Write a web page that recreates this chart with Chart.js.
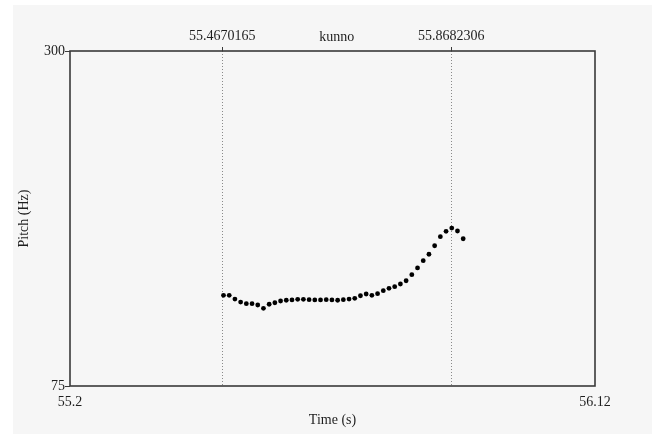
<!DOCTYPE html>
<html>
<head>
<meta charset="utf-8">
<script src="https://cdn.jsdelivr.net/npm/chart.js@4.4.1/dist/chart.umd.min.js"></script>
<style>
  html, body { margin: 0; padding: 0; background: #ffffff; }
  #wrap { position: relative; width: 660px; height: 434px; }
  #panel { position: absolute; left: 13px; top: 5px; width: 639px; height: 429px; background: #f6f6f6; }
  #chart { position: absolute; left: 0; top: 0; }
</style>
</head>
<body>
<div id="wrap">
  <div id="panel"></div>
  <canvas id="chart" width="660" height="434"></canvas>
</div>
<script>
// Pitch track (Hz) sampled every 10 ms across the word
const times = [
  55.469, 55.479, 55.489, 55.499, 55.509, 55.519, 55.529, 55.539, 55.549, 55.559,
  55.569, 55.579, 55.589, 55.599, 55.609, 55.619, 55.629, 55.639, 55.649, 55.659,
  55.669, 55.679, 55.689, 55.699, 55.709, 55.719, 55.729, 55.739, 55.749, 55.759,
  55.769, 55.779, 55.789, 55.799, 55.809, 55.819, 55.829, 55.839, 55.849, 55.859,
  55.869, 55.879, 55.889
];
const pitch = [
  135.9, 135.9, 133.4, 131.4, 130.3, 130.3, 129.4, 127.2, 129.9, 130.9,
  132.1, 132.6, 132.8, 133.2, 133.2, 133.0, 132.8, 132.8, 133.0, 132.8,
  132.6, 133.0, 133.4, 133.9, 135.6, 136.8, 135.9, 137.0, 139.0, 140.6,
  141.7, 143.5, 145.7, 149.8, 154.3, 159.2, 163.5, 169.2, 175.3, 178.9,
  181.1, 179.1, 173.9
];

// Axis ranges and tick labels
const timeTicks = [55.2, 56.12];
const timeTickLabels = ['55.2', '56.12'];
const pitchTicks = [75, 300];
const pitchTickLabels = ['75', '300'];

// Interval (word) boundaries and label
const boundaries = [55.4670165, 55.8682306];
const boundaryLabels = ['55.4670165', '55.8682306'];
const intervalLabel = 'kunno';

const FONT = { family: "'Liberation Serif', 'Times New Roman', serif", size: 14 };
const INK = '#1e1e1e';
const AXIS = '#3a3a3a';

// Frame around the plot plus dotted boundary lines and the interval text
const tierPlugin = {
  id: 'tier',
  beforeDatasetsDraw(chart) {
    const { ctx, chartArea: a, scales } = chart;
    ctx.save();
    ctx.strokeStyle = '#8a8a8a';
    ctx.lineWidth = 1;
    ctx.setLineDash([1, 2]);
    boundaries.forEach(v => {
      const x = Math.round(scales.x.getPixelForValue(v)) + 0.5;
      ctx.beginPath();
      ctx.moveTo(x, a.top);
      ctx.lineTo(x, a.bottom);
      ctx.stroke();
    });
    ctx.restore();
  },
  afterDraw(chart) {
    const { ctx, chartArea: a, scales } = chart;
    ctx.save();
    ctx.strokeStyle = AXIS;
    ctx.lineWidth = 1.6;
    ctx.strokeRect(a.left, a.top, a.right - a.left, a.bottom - a.top);
    const mid = (scales.x.getPixelForValue(boundaries[0]) + scales.x.getPixelForValue(boundaries[1])) / 2;
    ctx.fillStyle = INK;
    ctx.font = `${FONT.size}px ${FONT.family}`;
    ctx.textAlign = 'center';
    ctx.textBaseline = 'middle';
    ctx.fillText(intervalLabel, mid, a.top - 14);
    ctx.restore();
  }
};

new Chart(document.getElementById('chart'), {
  type: 'scatter',
  data: {
    datasets: [{
      data: times.map((t, i) => ({ x: t, y: pitch[i] })),
      backgroundColor: '#000000',
      borderWidth: 0,
      pointRadius: 2.4,
      pointHoverRadius: 2.4
    }]
  },
  options: {
    responsive: false,
    animation: false,
    events: [],
    layout: { autoPadding: false, padding: { left: 0, right: 65, top: 0, bottom: 0 } },
    plugins: { legend: { display: false }, tooltip: { enabled: false } },
    scales: {
      x: {
        type: 'linear',
        position: 'bottom',
        min: timeTicks[0],
        max: timeTicks[timeTicks.length - 1],
        afterBuildTicks: s => { s.ticks = timeTicks.map(v => ({ value: v })); },
        afterFit: s => { s.height = 48; },
        grid: { display: false, drawTicks: false },
        border: { display: false },
        ticks: {
          font: FONT, color: INK, padding: 8, maxRotation: 0, autoSkip: false,
          callback: (v, i) => timeTickLabels[i]
        },
        title: { display: true, text: 'Time (s)', font: FONT, color: INK, padding: { top: 0, bottom: 5 } }
      },
      x2: {
        type: 'linear',
        position: 'top',
        min: timeTicks[0],
        max: timeTicks[timeTicks.length - 1],
        afterBuildTicks: s => { s.ticks = boundaries.map(v => ({ value: v })); },
        afterFit: s => { s.height = 51; },
        grid: { display: true, drawOnChartArea: false, drawTicks: true, tickLength: 4, color: AXIS, lineWidth: 1 },
        border: { display: false },
        ticks: {
          font: FONT, color: INK, padding: 2, maxRotation: 0, autoSkip: false,
          callback: (v, i) => boundaryLabels[i]
        }
      },
      y: {
        type: 'linear',
        position: 'left',
        min: pitchTicks[0],
        max: pitchTicks[pitchTicks.length - 1],
        afterBuildTicks: s => { s.ticks = pitchTicks.map(v => ({ value: v })); },
        afterFit: s => { s.width = 70; },
        grid: { display: true, drawOnChartArea: false, drawTicks: true, tickLength: 5, color: AXIS, lineWidth: 1 },
        border: { display: false },
        ticks: {
          font: FONT, color: INK, padding: 0, autoSkip: false,
          callback: (v, i) => pitchTickLabels[i]
        },
        title: { display: true, text: 'Pitch (Hz)', font: FONT, color: INK, padding: { top: 16, bottom: 0 } }
      }
    }
  },
  plugins: [tierPlugin]
});
</script>
</body>
</html>
